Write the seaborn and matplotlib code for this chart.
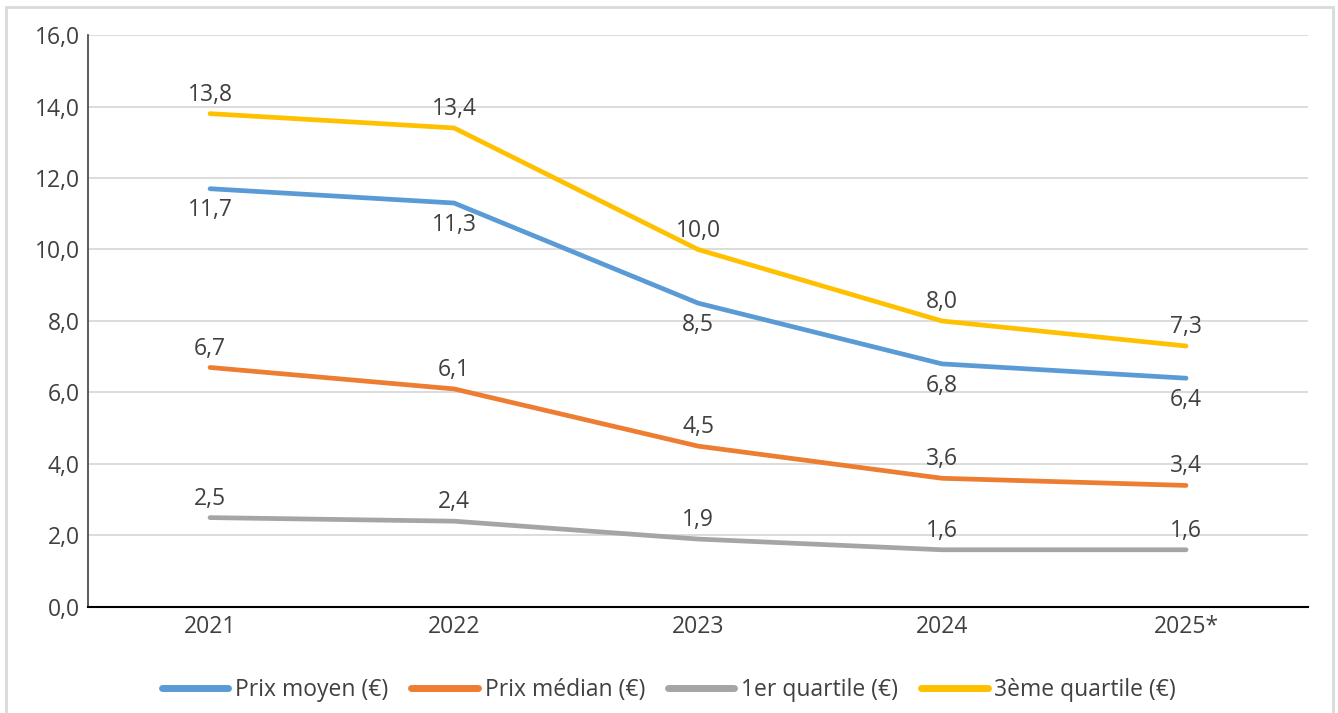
import pandas as pd
import seaborn as sns
import matplotlib.pyplot as plt
from matplotlib.patches import Rectangle

# Data
years = ["2021", "2022", "2023", "2024", "2025*"]
prix_moyen = [11.7, 11.3, 8.5, 6.8, 6.4]
prix_median = [6.7, 6.1, 4.5, 3.6, 3.4]
quartile_1 = [2.5, 2.4, 1.9, 1.6, 1.6]
quartile_3 = [13.8, 13.4, 10.0, 8.0, 7.3]

series_names = ["Prix moyen (€)", "Prix médian (€)", "1er quartile (€)", "3ème quartile (€)"]
series_values = [prix_moyen, prix_median, quartile_1, quartile_3]
colors = ["#5B9BD5", "#ED7D31", "#A5A5A5", "#FFC000"]

rows = []
for name, vals in zip(series_names, series_values):
    for i, v in enumerate(vals):
        rows.append({"idx": i, "year": years[i], "value": v, "serie": name})
df = pd.DataFrame(rows)

sns.set_style("white")
plt.rcParams["font.family"] = ["Open Sans", "DejaVu Sans"]
text_color = "#404040"
fs = 16.5

fig = plt.figure(figsize=(13.38, 7.13), dpi=100)
ax = fig.add_axes([0.0658, 0.1487, 0.9118, 0.8022])

sns.lineplot(data=df, x="idx", y="value", hue="serie", hue_order=series_names,
             palette=colors, linewidth=3.4, ax=ax, legend=True)

ax.set_xlim(-0.5, 4.5)
ax.set_ylim(0, 16)
ax.set_yticks(range(0, 17, 2))
ax.set_yticklabels([f"{t:.1f}".replace(".", ",") for t in range(0, 17, 2)],
                   fontsize=fs, color=text_color)
ax.set_xticks(range(len(years)))
ax.set_xticklabels(years, fontsize=fs, color=text_color)
ax.set_xlabel("")
ax.set_ylabel("")
ax.tick_params(axis="both", length=0, pad=6)
ax.grid(axis="y", color="#D9D9D9", linewidth=1.3)
ax.set_axisbelow(True)
for side in ["top", "right"]:
    ax.spines[side].set_visible(False)
ax.spines["left"].set_color("#404040")
ax.spines["left"].set_linewidth(1.2)
ax.spines["bottom"].set_color("black")
ax.spines["bottom"].set_linewidth(1.5)

# Data labels: mean below the line, others above
for name, vals in zip(series_names, series_values):
    below = name == "Prix moyen (€)"
    for i, v in enumerate(vals):
        label = f"{v:.1f}".replace(".", ",")
        ax.annotate(label, (i, v), xytext=(0, -7 if below else 5),
                    textcoords="offset points", ha="center",
                    va="top" if below else "bottom", fontsize=fs, color=text_color)

handles, labels = ax.get_legend_handles_labels()
for h in handles:
    h.set_linewidth(5)
ax.legend(handles, labels, loc="center", ncol=4, frameon=False, fontsize=fs,
          labelcolor=text_color, handlelength=2.9, columnspacing=1.0, handletextpad=0.3)
ax.get_legend().set_bbox_to_anchor((0.5, 0.032), transform=fig.transFigure)

# light outer frame
fig.patches.append(Rectangle((6 / 1338, -0.05), 1327 / 1338, 1.04, transform=fig.transFigure,
                             fill=False, edgecolor="#D9D9D9", linewidth=2))

fig.savefig("out.png", dpi=100)
